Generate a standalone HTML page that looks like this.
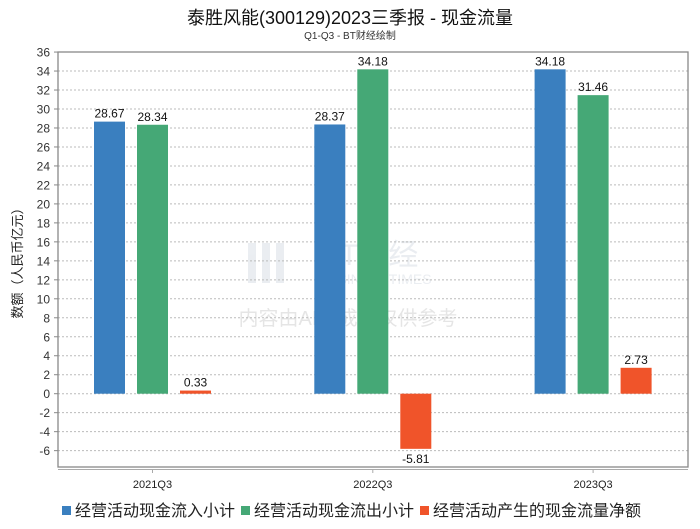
<!DOCTYPE html>
<html><head><meta charset="utf-8"><style>
body{margin:0;background:#fff;}
svg text{font-family:"Liberation Sans","Noto Sans CJK SC",sans-serif;}
</style></head><body>
<svg width="700" height="524" xmlns="http://www.w3.org/2000/svg">
<rect width="700" height="524" fill="#fff"/>
<text x="350" y="24" text-anchor="middle" font-size="18" fill="#111">泰胜风能(300129)2023三季报 - 现金流量</text>
<text x="350" y="39" text-anchor="middle" font-size="10" fill="#333">Q1-Q3 - BT财经绘制</text>
<g opacity="0.15">
<text x="320" y="265" font-size="30" fill="#7a8ca8" font-family="Liberation Serif,serif">BT财经</text>
<text x="318" y="284" font-size="14" fill="#7a8ca8">BUSINESSTIMES</text>
<rect x="248" y="243" width="8" height="40" fill="#7a8ca8"/><rect x="262" y="243" width="8" height="40" fill="#7a8ca8"/><rect x="276" y="243" width="8" height="40" fill="#7a8ca8"/>
<text x="348" y="325" text-anchor="middle" font-size="20" fill="#555">内容由AI生成，仅供参考</text>
</g>
<g id="grid"></g>
<g id="bars"></g>
<rect x="58" y="52" width="630" height="415" fill="none" stroke="#888" stroke-width="1.3"/>
<line x1="58" y1="469.5" x2="688" y2="469.5" stroke="#aaa"/>
<text transform="translate(22,260) rotate(-90)" text-anchor="middle" font-size="13" fill="#222">数额（人民币亿元）</text>
<g font-size="16" fill="#222">
<rect x="62" y="506" width="9" height="9" fill="#3a7fbf"/><text x="75" y="516">经营活动现金流入小计</text>
<rect x="241" y="506" width="9" height="9" fill="#45a876"/><text x="254" y="516">经营活动现金流出小计</text>
<rect x="420" y="506" width="9" height="9" fill="#f0542a"/><text x="433" y="516">经营活动产生的现金流量净额</text>
</g>
</svg>
<script>
const categories=["2021Q3","2022Q3","2023Q3"];
const inflow=[28.67,28.37,34.18];
const outflow=[28.34,34.18,31.46];
const net=[0.33,-5.81,2.73];
const yTicks=[36,34,32,30,28,26,24,22,20,18,16,14,12,10,8,6,4,2,0,-2,-4,-6];
const NS="http://www.w3.org/2000/svg";
function y(v){return 393.7-v*9.49;}
function cx(i){return 152.5+i*220.3;}
function mk(tag,attrs,parent){const e=document.createElementNS(NS,tag);for(const k in attrs)e.setAttribute(k,attrs[k]);parent.appendChild(e);return e;}
const grid=document.getElementById('grid'),bars=document.getElementById('bars');
yTicks.forEach(t=>{
 const l=mk('line',{x1:58,x2:688,y1:y(t),y2:y(t),stroke:'#bbb','stroke-dasharray':'2,2'},grid);
 
 
 mk('line',{x1:54,x2:58,y1:y(t),y2:y(t),stroke:'#888'},grid);
 const tx=mk('text',{x:50,y:y(t)+4.5,'text-anchor':'end','font-size':'12',fill:'#333'},grid);tx.textContent=t;
 
 
});
const series=[[inflow,'#3a7fbf','inflow'],[outflow,'#45a876','outflow'],[net,'#f0542a','net']];
categories.forEach((c,i)=>{
 mk('line',{x1:cx(i),x2:cx(i),y1:469.5,y2:473,stroke:'#aaa'},grid);
 const tl=mk('text',{x:cx(i),y:488,'text-anchor':'middle','font-size':'11',fill:'#222'},grid);tl.textContent=c;
 
 
 series.forEach((s,j)=>{
  const v=s[0][i];const bx=cx(i)+(j-1)*43-15.5;
  const top=Math.min(y(v),y(0)),h=Math.abs(y(v)-y(0));
  const r=mk('rect',{x:bx,y:top,width:31,height:h,fill:s[1]},bars);
  
  
  const lt=mk('text',{x:bx+15.5,y:v>=0?y(v)-4:y(v)+14,'text-anchor':'middle','font-size':'12',fill:'#111'},bars);lt.textContent=v.toFixed(2);
  
  
 });
});
</script>
</body></html>
